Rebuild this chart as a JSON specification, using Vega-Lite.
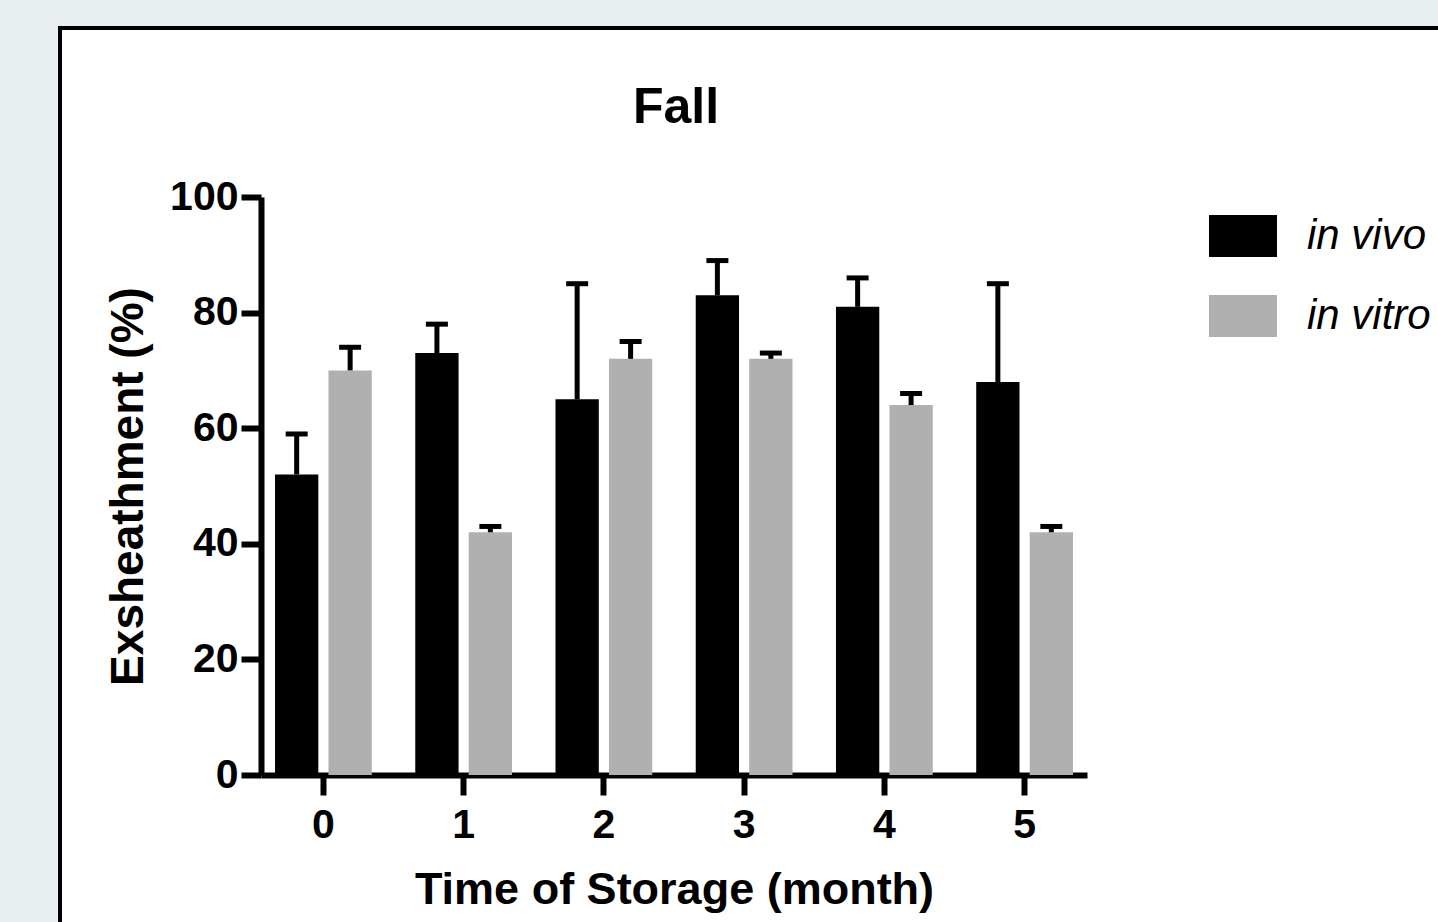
{
  "$schema": "https://vega.github.io/schema/vega-lite/v6.json",
  "width": 1400,
  "height": 910,
  "autosize": {"type": "none"},
  "padding": {"left": 60, "top": 28, "right": 0, "bottom": 0},
  "background": "#e9eef1",
  "title": {
    "text": "Fall",
    "font": "Liberation Sans",
    "fontSize": 50,
    "fontWeight": "bold",
    "color": "#000000",
    "anchor": "start",
    "align": "center",
    "dx": 616,
    "baseline": "alphabetic",
    "offset": -145
  },
  "data": {
    "values": [
      {"month": "0", "group": "in vivo", "mean": 52, "upper": 59},
      {"month": "0", "group": "in vitro", "mean": 70, "upper": 74},
      {"month": "1", "group": "in vivo", "mean": 73, "upper": 78},
      {"month": "1", "group": "in vitro", "mean": 42, "upper": 43},
      {"month": "2", "group": "in vivo", "mean": 65, "upper": 85},
      {"month": "2", "group": "in vitro", "mean": 72, "upper": 75},
      {"month": "3", "group": "in vivo", "mean": 83, "upper": 89},
      {"month": "3", "group": "in vitro", "mean": 72, "upper": 73},
      {"month": "4", "group": "in vivo", "mean": 81, "upper": 86},
      {"month": "4", "group": "in vitro", "mean": 64, "upper": 66},
      {"month": "5", "group": "in vivo", "mean": 68, "upper": 85},
      {"month": "5", "group": "in vitro", "mean": 42, "upper": 43}
    ]
  },
  "encoding": {
    "x": {
      "field": "month",
      "type": "nominal",
      "scale": {"type": "band", "range": [201, 1027], "paddingInner": 0.31, "paddingOuter": 0.1},
      "axis": {
        "title": "Time of Storage (month)",
        "orient": "bottom",
        "offset": -163,
        "labelAngle": 0,
        "labelPadding": 10,
        "titlePadding": 22
      }
    },
    "xOffset": {
      "field": "group",
      "type": "nominal",
      "sort": ["in vivo", "in vitro"],
      "scale": {"paddingInner": 0.19, "paddingOuter": 0}
    }
  },
  "layer": [
    {
      "mark": {"type": "bar"},
      "encoding": {
        "y": {
          "field": "mean",
          "type": "quantitative",
          "scale": {"domain": [0, 100], "range": [747, 169], "nice": false},
          "axis": {
            "title": "Exsheathment (%)",
            "orient": "left",
            "offset": -201,
            "values": [0, 20, 40, 60, 80, 100],
            "labelPadding": 3,
            "titlePadding": 17
          }
        },
        "color": {
          "field": "group",
          "type": "nominal",
          "sort": ["in vivo", "in vitro"],
          "scale": {"domain": ["in vivo", "in vitro"], "range": ["#000000", "#b0b0b1"]},
          "legend": {
            "title": null,
            "orient": "none",
            "legendX": 1149,
            "legendY": 174,
            "padding": 0,
            "symbolType": "M-1,-0.62H1V0.62H-1Z",
            "symbolSize": 4624,
            "symbolStrokeWidth": 0,
            "symbolOpacity": 1,
            "labelFont": "Liberation Sans",
            "labelFontSize": 42,
            "labelFontStyle": "italic",
            "labelFontWeight": "normal",
            "labelColor": "#000000",
            "labelOffset": 30,
            "rowPadding": 24
          }
        }
      }
    },
    {
      "mark": {"type": "rule", "color": "#000000", "strokeWidth": 5, "opacity": 1},
      "encoding": {
        "y": {"field": "mean", "type": "quantitative"},
        "y2": {"field": "upper"}
      }
    },
    {
      "mark": {"type": "tick", "color": "#000000", "thickness": 5, "size": 22, "orient": "horizontal", "opacity": 1},
      "encoding": {
        "y": {"field": "upper", "type": "quantitative"}
      }
    }
  ],
  "config": {
    "view": {"stroke": "#000000", "strokeWidth": 4, "fill": "#ffffff"},
    "axis": {
      "grid": false,
      "domainColor": "#000000",
      "domainWidth": 6,
      "tickColor": "#000000",
      "tickWidth": 6,
      "tickSize": 20,
      "labelFont": "Liberation Sans",
      "labelFontSize": 41,
      "labelFontWeight": "bold",
      "labelColor": "#000000",
      "titleFont": "Liberation Sans",
      "titleFontSize": 45,
      "titleFontWeight": "bold",
      "titleColor": "#000000"
    },
    "axisY": {"titleFontSize": 46}
  }
}
